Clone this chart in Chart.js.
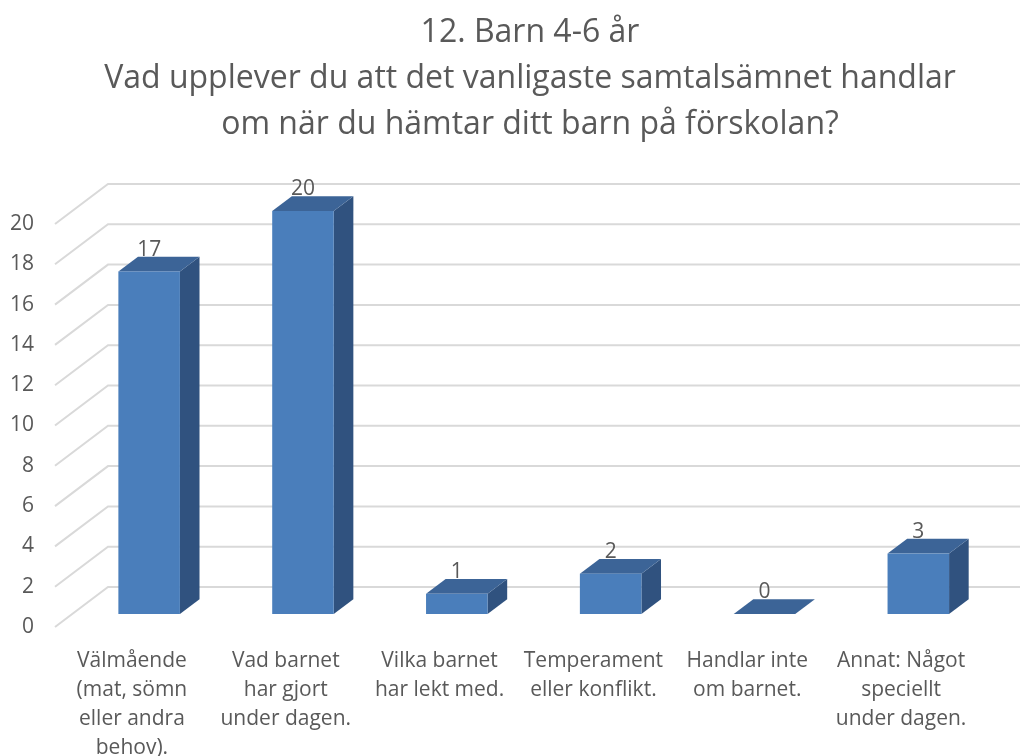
<!DOCTYPE html>
<html>
<head>
<meta charset="utf-8">
<script src="https://cdn.jsdelivr.net/npm/chart.js@4/dist/chart.umd.min.js"></script>
<style>
    html, body { margin: 0; padding: 0; background: #ffffff; }
    #wrap { width: 1020px; height: 756px; }
</style>
</head>
<body>
<div id="wrap"><canvas id="chart" width="1020" height="756"></canvas></div>
<script>
// chart data
const titleLines = [
    "12. Barn 4-6 år",
    "Vad upplever du att det vanligaste samtalsämnet handlar",
    "om när du hämtar ditt barn på förskolan?"
];
const categories = [
    ["Välmående", "(mat, sömn", "eller andra", "behov)."],
    ["Vad barnet", "har gjort", "under dagen."],
    ["Vilka barnet", "har lekt med."],
    ["Temperament", "eller konflikt."],
    ["Handlar inte", "om barnet."],
    ["Annat: Något", "speciellt", "under dagen."]
];
const answers = [17, 20, 1, 2, 0, 3];
const yTicks = [0, 2, 4, 6, 8, 10, 12, 14, 16, 18, 20];

const textColor = "#595959";
const fontFamily = "'Open Sans', sans-serif";

// floor depth of the 3d plot, and where the bars sit inside it
const DEPTH_X = 53, DEPTH_Y = 40;
const BAR_FRONT = 0.325, BAR_DEPTH = 0.37;

function fillPoly(ctx, pts, color) {
    ctx.fillStyle = color;
    ctx.beginPath();
    ctx.moveTo(pts[0][0], pts[0][1]);
    for (let i = 1; i < pts.length; i++) ctx.lineTo(pts[i][0], pts[i][1]);
    ctx.closePath();
    ctx.fill();
}

// draws the back grid and the bars as 3d boxes, using the bar elements chart.js laid out
const bars3d = {
    id: "bars3d",
    beforeDatasetsDraw(chart) {
        const ctx = chart.ctx;
        const area = chart.chartArea;
        const y = chart.scales.y;

        ctx.save();
        ctx.strokeStyle = "#d9d9d9";
        ctx.lineWidth = 2;
        y.ticks.forEach((t) => {
            const py = y.getPixelForValue(t.value);
            ctx.beginPath();
            ctx.moveTo(area.left, py);
            ctx.lineTo(area.left + DEPTH_X, py - DEPTH_Y);
            ctx.lineTo(chart.width, py - DEPTH_Y);
            ctx.stroke();
        });

        const ox = DEPTH_X * BAR_FRONT, oy = DEPTH_Y * BAR_FRONT;
        const dx = DEPTH_X * BAR_DEPTH, dy = DEPTH_Y * BAR_DEPTH;
        const meta = chart.getDatasetMeta(0);

        meta.data.forEach((bar, i) => {
            const p = bar.getProps(["x", "y", "base", "width"], true);
            const l = p.x - p.width / 2 + ox;
            const r = p.x + p.width / 2 + ox;
            const t = p.y - oy;
            const b = p.base - oy;

            fillPoly(ctx, [[r, t], [r + dx, t - dy], [r + dx, b - dy], [r, b]], "#30527f");
            fillPoly(ctx, [[l, t], [l + dx, t - dy], [r + dx, t - dy], [r, t]], "#3c6497");
            if (b - t > 0.5) {
                ctx.fillStyle = "#4a7ebb";
                ctx.fillRect(l, t, r - l, b - t);
            }

            ctx.fillStyle = textColor;
            ctx.font = "21px " + fontFamily;
            ctx.textAlign = "center";
            ctx.textBaseline = "alphabetic";
            ctx.fillText(String(answers[i]), p.x + ox, t - dy - 1);
        });
        ctx.restore();
        return false;
    }
};

const ctx = document.getElementById("chart").getContext("2d");

new Chart(ctx, {
    type: "bar",
    data: {
        labels: categories,
        datasets: [{
            data: answers,
            backgroundColor: "#4a7ebb",
            barPercentage: 0.4,
            categoryPercentage: 1.0
        }]
    },
    options: {
        responsive: false,
        animation: false,
        // extra room on the left keeps the title centred where the original has it
        layout: { padding: { left: 40, right: 0, top: 0, bottom: 0 } },
        plugins: {
            legend: { display: false },
            tooltip: { enabled: false },
            title: {
                display: true,
                text: titleLines,
                color: textColor,
                font: { family: fontFamily, size: 32, weight: "normal", lineHeight: 1.4375 },
                padding: { top: 10, bottom: 76 }
            }
        },
        scales: {
            x: {
                grid: { display: false },
                border: { display: false },
                ticks: {
                    color: textColor,
                    font: { family: fontFamily, size: 21, lineHeight: 1.381 },
                    padding: 12,
                    autoSkip: false,
                    maxRotation: 0
                },
                afterFit: (s) => { s.height = 129; }
            },
            y: {
                min: 0,
                max: 20,
                grid: { display: false },
                border: { display: false },
                // mirrored so the labels are not clipped to the narrow axis box
                ticks: {
                    mirror: true,
                    crossAlign: "far",
                    color: textColor,
                    font: { family: fontFamily, size: 21 },
                    padding: -45
                },
                afterBuildTicks: (s) => { s.ticks = yTicks.map((v) => ({ value: v })); },
                afterFit: (s) => { s.width = 15; }
            },
            // empty axis that only keeps room on the right, as the 3d depth does
            yRight: {
                position: "right",
                display: true,
                grid: { display: false },
                border: { display: false },
                ticks: { display: false },
                afterFit: (s) => { s.width = 42; }
            }
        }
    },
    plugins: [bars3d]
});
</script>
</body>
</html>
